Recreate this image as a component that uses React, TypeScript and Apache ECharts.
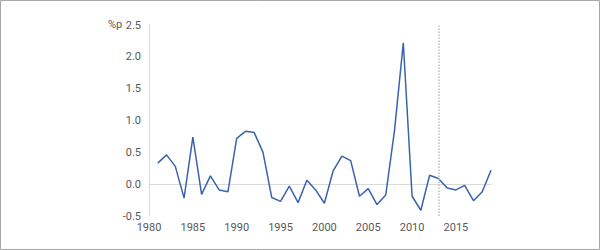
import React, { useEffect, useRef } from "react";
import * as echarts from "echarts";

const years = [1981,1982,1983,1984,1985,1986,1987,1988,1989,1990,1991,1992,1993,1994,1995,1996,1997,1998,1999,2000,2001,2002,2003,2004,2005,2006,2007,2008,2009,2010,2011,2012,2013,2014,2015,2016,2017,2018,2019];
const values = [0.33,0.46,0.28,-0.22,0.74,-0.16,0.13,-0.09,-0.12,0.72,0.83,0.81,0.5,-0.21,-0.27,-0.03,-0.29,0.06,-0.09,-0.3,0.21,0.44,0.37,-0.19,-0.07,-0.32,-0.17,0.85,2.22,-0.19,-0.41,0.14,0.09,-0.06,-0.09,-0.02,-0.26,-0.12,0.22];
const markerYear = 2013;
const unitLabel = "%p";

export default function App() {
  const ref = useRef<HTMLDivElement>(null);
  useEffect(() => {
    const chart = echarts.init(ref.current!, null, { renderer: "svg" });
    const labelStyle = { color: "#595959", fontSize: 11, fontFamily: "Roboto, 'Noto Sans', sans-serif" };
    chart.setOption({
      animation: false,
      grid: { left: 149, right: 109, top: 25, bottom: 34 },
      graphic: [
        {
          type: "rect",
          shape: { x: 0.5, y: 0.5, width: 599, height: 249 },
          style: { fill: "none", stroke: "#a6a6a6", lineWidth: 1 },
          silent: true,
        },
        {
          type: "text",
          left: 108,
          top: 19,
          style: { text: unitLabel, fill: "#595959", fontSize: 11, fontFamily: "Roboto, 'Noto Sans', sans-serif" },
        },
      ],
      xAxis: {
        type: "value",
        min: 1980,
        max: 2019,
        interval: 5,
        axisLine: { show: true, lineStyle: { color: "#d9d9d9" } },
        axisTick: { show: false },
        splitLine: { show: false },
        axisLabel: { ...labelStyle, margin: 6, showMaxLabel: false, formatter: (v: number) => String(v) },
      },
      yAxis: {
        type: "value",
        min: -0.5,
        max: 2.5,
        interval: 0.5,
        axisLine: { show: true, lineStyle: { color: "#d9d9d9" } },
        axisTick: { show: false },
        splitLine: { show: false },
        axisLabel: { ...labelStyle, margin: 8, formatter: (v: number) => v.toFixed(1) },
      },
      series: [
        {
          type: "line",
          data: years.map((y, i) => [y, values[i]]),
          showSymbol: false,
          lineStyle: { color: "#3a63ad", width: 1.5 },
          itemStyle: { color: "#3a63ad" },
          markLine: {
            silent: true,
            symbol: "none",
            label: { show: false },
            lineStyle: { color: "#bfbfbf", type: "dotted", width: 1.5 },
            data: [{ xAxis: markerYear }],
          },
        },
      ],
    });
    return () => chart.dispose();
  }, []);
  return <div ref={ref} style={{ width: 600, height: 250, position: "absolute", left: 0, top: 0 }} />;
}
